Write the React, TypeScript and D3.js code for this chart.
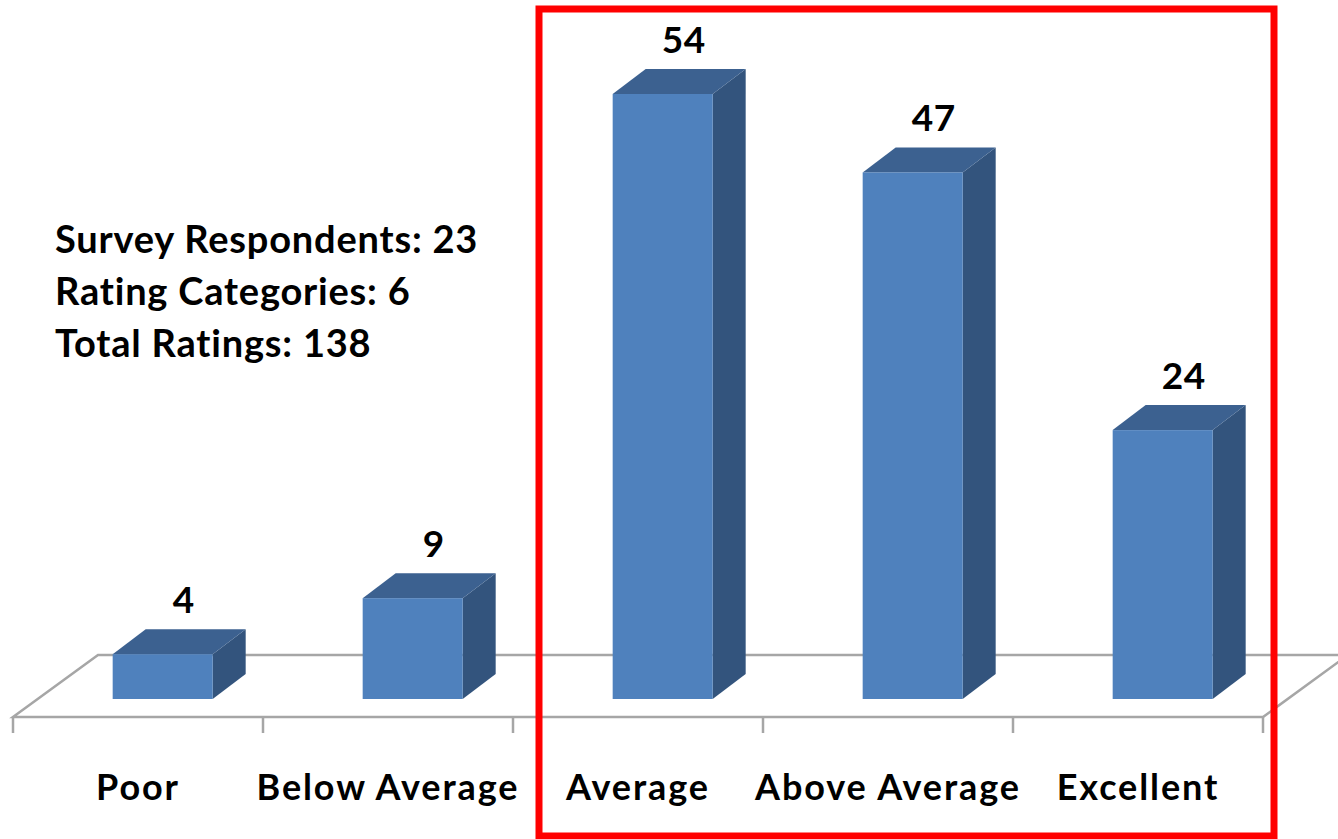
import React from 'react';
import * as d3 from 'd3';

const categories = ['Poor', 'Below Average', 'Average', 'Above Average', 'Excellent'];
const counts = [4, 9, 54, 47, 24];
const notes = ['Survey Respondents: 23', 'Rating Categories: 6', 'Total Ratings: 138'];

const W = 1338;
const H = 839;
const FONT = 'Lato, "Open Sans", sans-serif';

// floor geometry (3d look)
const floorFront = 717;
const floorDx = 85;
const floorDy = -62;
const barDx = 33;
const barDy = -25;
const barBase = 699;

const FRONT = '#4f81bd';
const TOP = '#3c6190';
const SIDE = '#33547d';
const GRID = '#a6a6a6';

export default function App() {
  const x = d3.scaleBand<string>()
    .domain(categories)
    .range([13, 1263])
    .paddingInner(0.6)
    .paddingOuter(0.3);

  const y = d3.scaleLinear()
    .domain([0, d3.max(counts) || 1])
    .range([barBase, 94]);

  const step = x.step();
  const bw = x.bandwidth();
  // shift bars to middle depth of the floor
  const shift = floorDx * ((floorFront - barBase) / -floorDy);
  const [x0, x1] = x.range();
  const ticks = d3.range(categories.length + 1).map(i => x0 + i * step);

  return (
    <svg width={W} height={H} style={{ position: 'absolute', left: 0, top: 0, background: '#fff' }}>
      {/* floor */}
      <g fill="none" stroke={GRID} strokeWidth={2.5}>
        <path d={`M${x0},${floorFront} L${x1},${floorFront} L${x1 + floorDx},${floorFront + floorDy} L${x0 + floorDx},${floorFront + floorDy} Z`} />
        {ticks.map((t, i) => (
          <line key={i} x1={t} x2={t} y1={floorFront} y2={floorFront + 16} />
        ))}
      </g>

      {/* bars */}
      {categories.map((c, i) => {
        const bx = (x(c) || 0) + shift;
        const top = y(counts[i]);
        return (
          <g key={c}>
            <path
              d={`M${bx + bw},${barBase} L${bx + bw + barDx},${barBase + barDy} L${bx + bw + barDx},${top + barDy} L${bx + bw},${top} Z`}
              fill={SIDE}
            />
            <path
              d={`M${bx},${top} L${bx + barDx},${top + barDy} L${bx + bw + barDx},${top + barDy} L${bx + bw},${top} Z`}
              fill={TOP}
            />
            <rect x={bx} y={top} width={bw} height={barBase - top} fill={FRONT} />
            <text
              x={bx + bw / 2 + 21}
              y={top + barDy - 16}
              textAnchor="middle"
              fontFamily={FONT}
              fontWeight={700}
              fontSize={37}
              letterSpacing={0.5}
              fill="#000"
            >
              {counts[i]}
            </text>
          </g>
        );
      })}

      {/* category labels */}
      {categories.map(c => (
        <text
          key={c}
          x={(x(c) || 0) + bw / 2}
          y={800}
          textAnchor="middle"
          fontFamily={FONT}
          fontWeight={700}
          fontSize={36}
          letterSpacing={1.9}
          fill="#000"
        >
          {c}
        </text>
      ))}

      {/* summary notes */}
      {notes.map((n, i) => (
        <text key={n} x={55} y={253 + i * 52} fontFamily={FONT} fontWeight={700} fontSize={38} letterSpacing={0.8} fill="#000">
          {n}
        </text>
      ))}

      {/* highlight box */}
      <rect x={539} y={9} width={735} height={827} fill="none" stroke="#ff0000" strokeWidth={7} />
    </svg>
  );
}
